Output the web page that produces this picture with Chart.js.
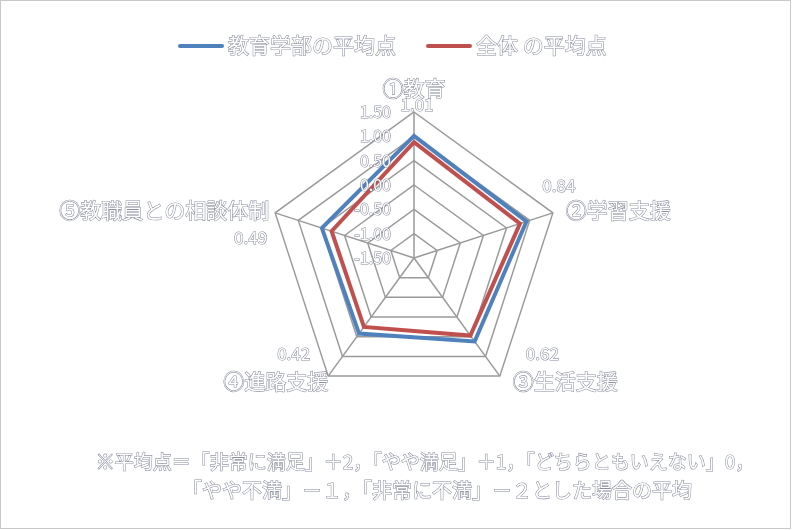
<!DOCTYPE html>
<html>
<head>
<meta charset="utf-8">
<script src="https://cdn.jsdelivr.net/npm/chart.js@4"></script>
<style>
  body { margin: 0; background: #fff; }
  #wrap { position: relative; width: 805px; height: 530px; }
</style>
</head>
<body>
<div id="wrap"><canvas id="myChart" width="805" height="530"></canvas></div>
<script>
// カテゴリ
const categories = ["①教育", "②学習支援", "③生活支援", "④進路支援", "⑤教職員との相談体制"];
// 系列
const seriesNames = ["教育学部の平均点", "全体 の平均点"];
const facultyValues = [1.01, 0.93, 0.62, 0.42, 0.49];
const overallValues = [0.88, 0.79, 0.47, 0.25, 0.28];
// データラベル (図中の表記)
const dataLabels = ["1.01", "0.84", "0.62", "0.42", "0.49"];
const tickValues = [1.5, 1.0, 0.5, 0.0, -0.5, -1.0, -1.5];
const footnote = [
  "※平均点＝「非常に満足」＋2，「やや満足」＋1，「どちらともいえない」0，",
  "「やや不満」－１，「非常に不満」－２とした場合の平均",
];
const colors = ["#4F81BD", "#C0504D"];

const FONT = '"Noto Sans CJK JP", "Noto Sans", sans-serif';

// 白抜き文字
function outlineText(ctx, text, x, y, size, align) {
  ctx.save();
  ctx.font = size + "px " + FONT;
  ctx.textAlign = align || "left";
  ctx.textBaseline = "middle";
  ctx.lineWidth = 1.1;
  ctx.strokeStyle = "rgba(115,120,140,0.85)";
  ctx.strokeText(text, x, y);
  ctx.fillStyle = "#ffffff";
  ctx.fillText(text, x, y);
  ctx.restore();
}

const textPlugin = {
  id: "textPlugin",
  beforeDraw(chart) {
    const ctx = chart.ctx;
    ctx.save();
    ctx.fillStyle = "#fff";
    ctx.fillRect(0, 0, chart.width, chart.height);
    ctx.strokeStyle = "#c8c8c8";
    ctx.lineWidth = 1;
    ctx.strokeRect(0.5, 0.5, 790, 528);
    ctx.restore();
  },
  afterDraw(chart) {
    const ctx = chart.ctx;
    const r = chart.scales.r;
    const R = r.drawingArea;

    // 凡例
    const legendX = [180, 428];
    seriesNames.forEach((name, i) => {
      ctx.save();
      ctx.strokeStyle = colors[i];
      ctx.lineWidth = 4;
      ctx.lineCap = "round";
      ctx.beginPath();
      ctx.moveTo(legendX[i], 46);
      ctx.lineTo(legendX[i] + 42, 46);
      ctx.stroke();
      ctx.restore();
      outlineText(ctx, name, legendX[i] + 48, 45, 21, "left");
    });

    // 目盛ラベル
    tickValues.forEach((v) => {
      const d = r.getDistanceFromCenterForValue(v);
      outlineText(ctx, v.toFixed(2), r.xCenter - 23, r.yCenter - d, 16, "right");
    });

    // 項目名とデータラベル
    const labelOffsets = [
      { dx: 0, dy: -24, align: "center", vx: 3, vy: -7, valign: "center" },
      { dx: 13, dy: -3, align: "left", vx: 6, vy: -27, valign: "center" },
      { dx: 13, dy: 5, align: "left", vx: 26, vy: -23, valign: "left" },
      { dx: 0, dy: 5, align: "right", vx: -18, vy: -23, valign: "right" },
      { dx: -6, dy: -3, align: "right", vx: -8, vy: 25, valign: "right" },
    ];
    categories.forEach((cat, i) => {
      const p = r.getPointPosition(i, R);
      const o = labelOffsets[i];
      outlineText(ctx, cat, p.x + o.dx, p.y + o.dy, 21, o.align);
      outlineText(ctx, dataLabels[i], p.x + o.vx, p.y + o.vy, 17, o.valign);
    });

    // 注記
    outlineText(ctx, footnote[0], 425, 462, 19, "center");
    outlineText(ctx, footnote[1], 437, 490, 20, "center");
  },
};

const ctx = document.getElementById("myChart").getContext("2d");
new Chart(ctx, {
  type: "radar",
  data: {
    labels: categories,
    datasets: [
      {
        label: seriesNames[0],
        data: facultyValues,
        borderColor: colors[0],
        backgroundColor: "transparent",
        borderWidth: 4,
        pointRadius: 0,
        fill: false,
        order: 1,
      },
      {
        label: seriesNames[1],
        data: overallValues,
        borderColor: colors[1],
        backgroundColor: "transparent",
        borderWidth: 4,
        pointRadius: 0,
        fill: false,
        order: 0,
      },
    ],
  },
  options: {
    responsive: false,
    animation: false,
    layout: { padding: { top: 112, bottom: 126, left: 100, right: 77 } },
    elements: { line: { tension: 0, borderJoinStyle: "miter" } },
    scales: {
      r: {
        min: -1.5,
        max: 1.5,
        ticks: { stepSize: 0.5, display: false },
        pointLabels: { display: false },
        grid: { color: "#9a9a9a", lineWidth: 1.5 },
        angleLines: { color: "#9a9a9a", lineWidth: 1.5 },
      },
    },
    plugins: {
      legend: { display: false },
      tooltip: { enabled: false },
    },
  },
  plugins: [textPlugin],
});
</script>
</body>
</html>
